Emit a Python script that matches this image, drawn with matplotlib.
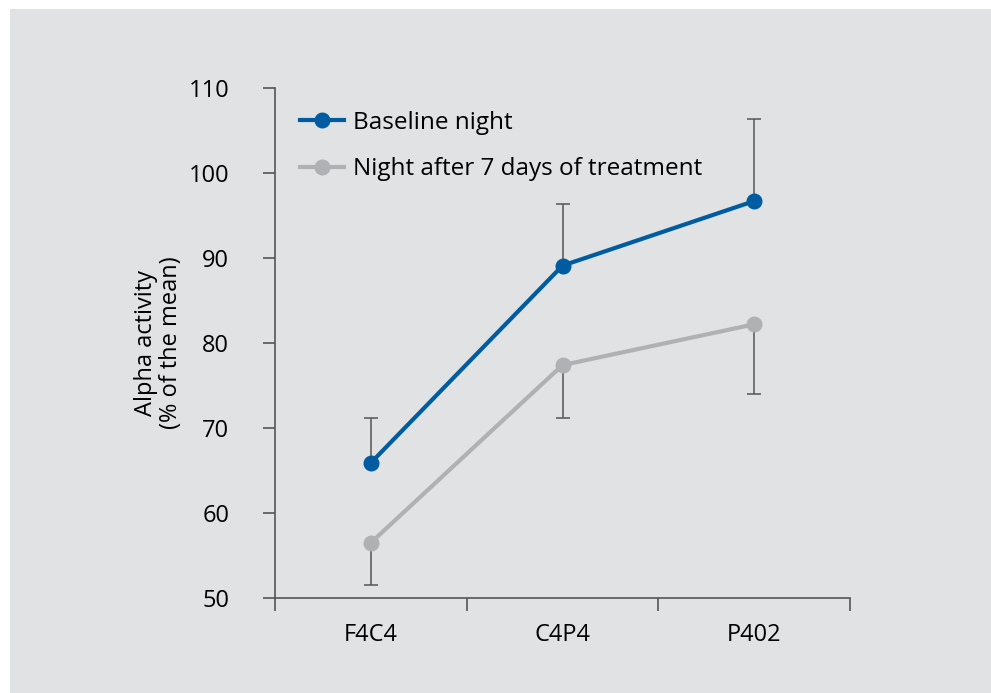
import matplotlib.pyplot as plt
import matplotlib.patches as patches
import numpy as np

categories = ['F4C4', 'C4P4', 'P402']
baseline = [65.9, 89.1, 96.7]
baseline_err_up = [5.3, 7.2, 9.6]
treatment = [56.5, 77.4, 82.2]
treatment_err_down = [5.0, 6.2, 8.2]

blue = '#005ca0'
grey = '#b0b1b4'
axis_col = '#555555'

plt.rcParams['font.family'] = ['Open Sans', 'DejaVu Sans']

fig = plt.figure(figsize=(9.91, 6.93), dpi=100)
bg = patches.Rectangle((10 / 991, 0), 1, 1 - 9 / 693,
                       transform=fig.transFigure,
                       facecolor='#e1e2e4', edgecolor='none', zorder=-10)
fig.add_artist(bg)

ax = fig.add_axes([275 / 991, 1 - 598 / 693, 575 / 991, 510 / 693])
ax.set_facecolor('none')

x = np.arange(len(categories))
zeros = np.zeros(len(categories))

ax.errorbar(x, baseline, yerr=[zeros, baseline_err_up], fmt='none',
            ecolor=axis_col, elinewidth=1.1, capsize=4.7, capthick=1.1, zorder=2)
ax.errorbar(x, treatment, yerr=[treatment_err_down, zeros], fmt='none',
            ecolor=axis_col, elinewidth=1.1, capsize=4.7, capthick=1.1, zorder=2)

ax.plot(x, baseline, color=blue, lw=3, marker='o', ms=10.5,
        label='Baseline night', zorder=4)
ax.plot(x, treatment, color=grey, lw=3, marker='o', ms=10.5,
        label='Night after 7 days of treatment', zorder=3)

ax.set_xlim(-0.5, len(categories) - 0.5)
ax.set_ylim(50, 110)
ax.set_yticks(np.arange(50, 111, 10))

# ticks at group boundaries, labels at centres
ax.set_xticks(np.arange(-0.5, len(categories), 1))
ax.set_xticklabels([])
ax.set_xticks(x, minor=True)
ax.set_xticklabels(categories, minor=True)
ax.tick_params(axis='x', which='minor', length=0, pad=18, labelsize=17)
ax.tick_params(axis='x', which='major', length=9, width=1.2, color=axis_col, direction='out')
ax.tick_params(axis='y', length=9, width=1.2, color=axis_col, direction='out',
               pad=24, labelsize=17)

for s in ['top', 'right']:
    ax.spines[s].set_visible(False)
for s in ['left', 'bottom']:
    ax.spines[s].set_color(axis_col)
    ax.spines[s].set_linewidth(1.2)

ax.set_ylabel('Alpha activity\n(% of the mean)', fontsize=17, labelpad=4, linespacing=1.05)

ax.legend(loc='upper left', bbox_to_anchor=(25 / 575, 0.955), frameon=False,
          borderpad=0, borderaxespad=0,
          fontsize=17.5, handlelength=1.8, handletextpad=0.4, labelspacing=0.92)

fig.savefig('out.png', dpi=100)
